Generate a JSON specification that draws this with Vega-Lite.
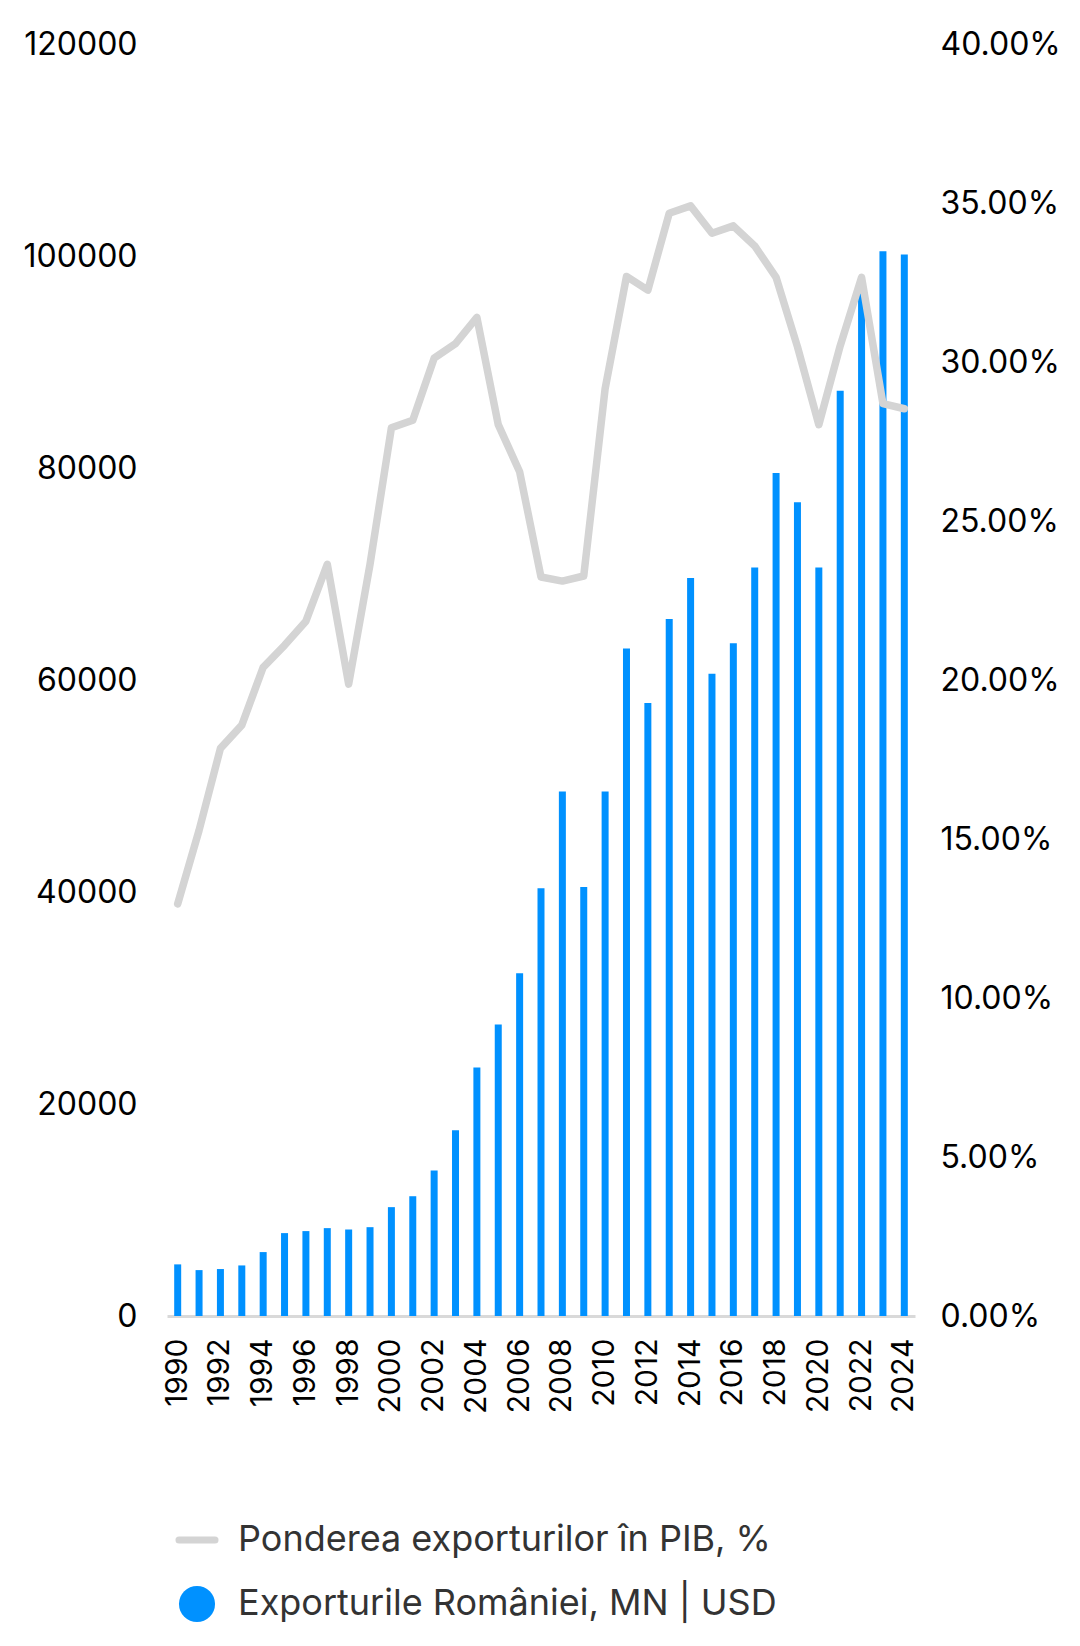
{
  "$schema": "https://vega.github.io/schema/vega-lite/v6.json",
  "width": 748,
  "height": 1272,
  "autosize": "none",
  "padding": {"left": 167, "top": 44, "right": 165, "bottom": 330},
  "background": "white",
  "config": {
    "font": "Inter",
    "view": {"stroke": null},
    "axis": {"grid": false, "ticks": false, "domain": false, "labelFont": "Inter", "labelFontSize": 32, "labelColor": "#000000", "title": null}
  },
  "data": {
    "values": [
      {"year": 1990, "exports": 4870, "share": 0.1296},
      {"year": 1991, "exports": 4330, "share": 0.1527},
      {"year": 1992, "exports": 4430, "share": 0.1785},
      {"year": 1993, "exports": 4770, "share": 0.1858},
      {"year": 1994, "exports": 6030, "share": 0.2040},
      {"year": 1995, "exports": 7820, "share": 0.2109},
      {"year": 1996, "exports": 8010, "share": 0.2185},
      {"year": 1997, "exports": 8290, "share": 0.2364},
      {"year": 1998, "exports": 8160, "share": 0.1987},
      {"year": 1999, "exports": 8380, "share": 0.2364},
      {"year": 2000, "exports": 10270, "share": 0.2793},
      {"year": 2001, "exports": 11300, "share": 0.2817},
      {"year": 2002, "exports": 13720, "share": 0.3012},
      {"year": 2003, "exports": 17520, "share": 0.3058},
      {"year": 2004, "exports": 23450, "share": 0.3140},
      {"year": 2005, "exports": 27500, "share": 0.2803},
      {"year": 2006, "exports": 32330, "share": 0.2655},
      {"year": 2007, "exports": 40360, "share": 0.2324},
      {"year": 2008, "exports": 49490, "share": 0.2311},
      {"year": 2009, "exports": 40460, "share": 0.2327},
      {"year": 2010, "exports": 49490, "share": 0.2916},
      {"year": 2011, "exports": 62980, "share": 0.3269},
      {"year": 2012, "exports": 57820, "share": 0.3226},
      {"year": 2013, "exports": 65750, "share": 0.3468},
      {"year": 2014, "exports": 69620, "share": 0.3491},
      {"year": 2015, "exports": 60600, "share": 0.3405},
      {"year": 2016, "exports": 63470, "share": 0.3428},
      {"year": 2017, "exports": 70610, "share": 0.3365},
      {"year": 2018, "exports": 79540, "share": 0.3266},
      {"year": 2019, "exports": 76760, "share": 0.3048},
      {"year": 2020, "exports": 70610, "share": 0.2803},
      {"year": 2021, "exports": 87280, "share": 0.3051},
      {"year": 2022, "exports": 97000, "share": 0.3266},
      {"year": 2023, "exports": 100450, "share": 0.2869},
      {"year": 2024, "exports": 100150, "share": 0.2853}
    ]
  },
  "encoding": {
    "x": {
      "field": "year", "type": "ordinal",
      "scale": {"paddingInner": 0, "paddingOuter": 0},
      "axis": {
        "values": [1990,1992,1994,1996,1998,2000,2002,2004,2006,2008,2010,2012,2014,2016,2018,2020,2022,2024],
        "labelAngle": 270, "labelPadding": 22, "labelFontSize": 30, "domain": true, "domainColor": "#d9d9d9", "domainWidth": 3, "zindex": 0
      }
    }
  },
  "layer": [
    {
      "mark": {"type": "bar", "width": 7, "color": "#0091ff"},
      "encoding": {
        "y": {
          "field": "exports", "type": "quantitative",
          "scale": {"domain": [0, 120000], "nice": false},
          "axis": {"orient": "left", "values": [0,20000,40000,60000,80000,100000,120000], "format": "d", "labelPadding": 30}
        },
        "color": {
          "datum": "Exporturile României, MN | USD",
          "scale": {"domain": ["Ponderea exporturilor în PIB, %", "Exporturile României, MN | USD"], "range": ["#d4d4d4", "#0091ff"]},
          "legend": {
            "orient": "none", "legendX": 12, "legendY": 1478, "direction": "vertical",
            "title": null, "padding": 0, "symbolSize": 1300, "symbolType": "circle",
            "labelFont": "Inter", "labelFontSize": 36, "labelColor": "#333333", "labelOffset": 23, "rowPadding": 27,
            "labelLimit": 900,
            "encode": {
              "symbols": {
                "update": {
                  "shape": {"signal": "datum.value === 'Ponderea exporturilor în PIB, %' ? 'stroke' : 'circle'"},
                  "stroke": {"signal": "datum.value === 'Ponderea exporturilor în PIB, %' ? '#d4d4d4' : '#0091ff'"},
                  "strokeWidth": {"signal": "datum.value === 'Ponderea exporturilor în PIB, %' ? 7 : 0"},
                  "fill": {"signal": "datum.value === 'Ponderea exporturilor în PIB, %' ? 'transparent' : '#0091ff'"},
                  "strokeCap": {"value": "round"},
                  "opacity": {"value": 1}
                }
              }
            }
          }
        }
      }
    },
    {
      "mark": {"type": "line", "color": "#d4d4d4", "strokeWidth": 7.5, "strokeCap": "round", "strokeJoin": "round"},
      "encoding": {
        "y": {
          "field": "share", "type": "quantitative",
          "scale": {"domain": [0, 0.4], "nice": false},
          "axis": {"orient": "right", "values": [0,0.05,0.1,0.15,0.2,0.25,0.3,0.35,0.4], "format": ".2%", "labelPadding": 25}
        },
        "color": {"datum": "Ponderea exporturilor în PIB, %"}
      }
    }
  ],
  "resolve": {"scale": {"y": "independent"}}
}
